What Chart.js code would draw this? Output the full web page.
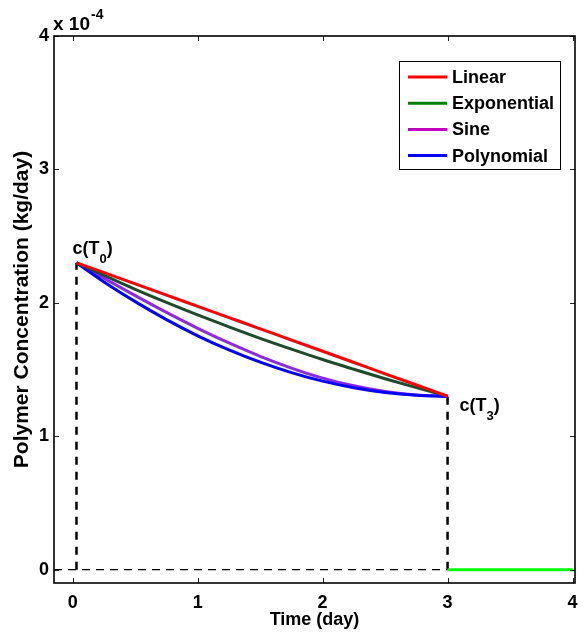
<!DOCTYPE html>
<html><head><meta charset="utf-8">
<script src="https://cdn.jsdelivr.net/npm/chart.js@4/dist/chart.umd.min.js"></script>
<style>html,body{margin:0;padding:0;background:#fff}#wrap{width:587px;height:634px}</style>
</head><body><div id="wrap"><canvas id="c" width="587" height="634"></canvas></div>
<script>
// ---- data (concentration in units of 1e-4 kg/day) ----
const TIME = [0.03, 0.25, 0.5, 0.75, 1.0, 1.25, 1.5, 1.75, 2.0, 2.25, 2.5, 2.75, 3.0];
const LINEAR      = [2.30, 2.226, 2.142, 2.058, 1.973, 1.889, 1.805, 1.721, 1.637, 1.553, 1.468, 1.384, 1.30];
const EXPONENTIAL = [2.30, 2.205, 2.101, 2.003, 1.909, 1.820, 1.734, 1.653, 1.575, 1.502, 1.431, 1.364, 1.30];
const SINE        = [2.30, 2.184, 2.054, 1.928, 1.809, 1.699, 1.599, 1.511, 1.436, 1.378, 1.335, 1.309, 1.30];
const POLYNOMIAL  = [2.30, 2.157, 2.009, 1.874, 1.753, 1.647, 1.555, 1.477, 1.413, 1.364, 1.328, 1.307, 1.30];
const T0 = 0.03, T3 = 3.0, T_END = 4.0;
const C_T0 = 2.30, C_T3 = 1.30;
const X_TICKS = [0, 1, 2, 3, 4];
const Y_TICKS = [0, 1, 2, 3, 4];
const Y_EXPONENT = '-4';
const SERIES_LABELS = ['Linear', 'Exponential', 'Sine', 'Polynomial'];
const LEGEND_COLORS = ['#ff0000', '#008000', '#bf00bf', '#0000ff'];
const LINE_COLORS   = ['#ff0000', '#1f4a2c', '#8a2be2', '#0000ff'];

const FONT = '"Liberation Sans", Arial, Helvetica, sans-serif';
const pts = (xs, ys) => xs.map((x, i) => ({x: x, y: ys[i]}));

const curveSets = [LINEAR, EXPONENTIAL, SINE, POLYNOMIAL].map((ys, i) => ({
  label: SERIES_LABELS[i], data: pts(TIME, ys), borderColor: LINE_COLORS[i],
  borderWidth: 3, pointRadius: 0, fill: false, cubicInterpolationMode: 'monotone',
  order: [1, 2, 4, 3][i]
}));

const helperSets = [
  {label: '_v0', data: [{x: T0, y: 0}, {x: T0, y: C_T0}], borderColor: '#000', borderWidth: 2.5, borderDash: [8, 7], pointRadius: 0, order: 10},
  {label: '_v3', data: [{x: T3, y: 0}, {x: T3, y: C_T3}], borderColor: '#000', borderWidth: 2.5, borderDash: [8, 7], pointRadius: 0, order: 10},
  {label: '_h0', data: [{x: -0.15, y: 0}, {x: T3, y: 0}], borderColor: '#000', borderWidth: 1.3, borderDash: [8, 6], pointRadius: 0, order: 10},
  {label: '_g', data: [{x: T3, y: 0}, {x: T_END, y: 0}], borderColor: '#00ff00', borderWidth: 3, pointRadius: 0, order: 9}
];

const decor = {
  id: 'decor',
  afterDraw(chart) {
    const ctx = chart.ctx, a = chart.chartArea;
    const xs = chart.scales.x, ys = chart.scales.y;
    ctx.save();
    // inner ticks
    ctx.strokeStyle = '#222'; ctx.lineWidth = 1;
    X_TICKS.forEach(v => {
      const px = Math.round(xs.getPixelForValue(v)) + 0.5;
      ctx.beginPath(); ctx.moveTo(px, a.bottom); ctx.lineTo(px, a.bottom - 5);
      ctx.moveTo(px, a.top); ctx.lineTo(px, a.top + 5); ctx.stroke();
    });
    Y_TICKS.forEach(v => {
      const py = Math.round(ys.getPixelForValue(v)) + 0.5;
      ctx.beginPath(); ctx.moveTo(a.left, py); ctx.lineTo(a.left + 5, py);
      ctx.moveTo(a.right, py); ctx.lineTo(a.right - 5, py); ctx.stroke();
    });
    // box
    ctx.strokeStyle = '#000'; ctx.lineWidth = 1.6;
    ctx.strokeRect(a.left, a.top, a.right - a.left, a.bottom - a.top);

    // legend
    const lx = a.right - 176, ly = a.top + 25, lw = 161, lh = 108;
    ctx.fillStyle = '#fff'; ctx.fillRect(lx, ly, lw, lh);
    ctx.strokeStyle = '#000'; ctx.lineWidth = 1; ctx.strokeRect(lx + 0.5, ly + 0.5, lw, lh);
    ctx.font = 'bold 18px ' + FONT; ctx.textBaseline = 'middle'; ctx.textAlign = 'left';
    SERIES_LABELS.forEach((lab, i) => {
      const cy = ly + 16 + i * 26.2;
      ctx.strokeStyle = LEGEND_COLORS[i]; ctx.lineWidth = 3;
      ctx.beginPath(); ctx.moveTo(lx + 9, cy); ctx.lineTo(lx + 48, cy); ctx.stroke();
      ctx.fillStyle = '#000'; ctx.fillText(lab, lx + 53, cy + 1);
    });

    // annotations c(T0), c(T3)
    ctx.fillStyle = '#000'; ctx.textBaseline = 'alphabetic';
    function cT(x, y, sub) {
      ctx.font = 'bold 18px ' + FONT;
      let w = ctx.measureText('c(T').width;
      ctx.fillText('c(T', x, y);
      ctx.font = 'bold 13px ' + FONT;
      ctx.fillText(sub, x + w, y + 9);
      const w2 = ctx.measureText(sub).width;
      ctx.font = 'bold 18px ' + FONT;
      ctx.fillText(')', x + w + w2, y);
    }
    const p0x = xs.getPixelForValue(T0), p0y = ys.getPixelForValue(C_T0);
    cT(p0x - 4, p0y - 9, '0');
    const p3x = xs.getPixelForValue(T3), p3y = ys.getPixelForValue(C_T3);
    cT(p3x + 12, p3y + 15, '3');

    // exponent label
    ctx.font = 'bold 19px ' + FONT;
    const ex = a.left - 1, ey = a.top - 6;
    ctx.fillText('x 10', ex, ey);
    const ew = ctx.measureText('x 10').width;
    ctx.font = 'bold 14px ' + FONT;
    ctx.fillText(Y_EXPONENT, ex + ew + 1, ey - 11);
    ctx.restore();
  }
};

new Chart(document.getElementById('c'), {
  type: 'line',
  data: {datasets: [...curveSets, ...helperSets]},
  options: {
    responsive: false, animation: false,
    layout: {padding: {top: 36, right: 12, left: 0, bottom: 0}},
    plugins: {legend: {display: false}, tooltip: {enabled: false}},
    scales: {
      x: {
        type: 'linear', min: -0.15, max: 4.02,
        grid: {display: false, drawTicks: false}, border: {display: false},
        afterBuildTicks: s => { s.ticks = X_TICKS.map(v => ({value: v})); },
        afterFit: s => { s.height = 51; },
        ticks: {color: '#000', padding: 9, font: {family: FONT, size: 18, weight: 'bold'}, maxRotation: 0},
        title: {display: true, text: 'Time (day)', color: '#000', padding: {top: 0, bottom: 3}, font: {family: FONT, size: 18, weight: 'bold'}}
      },
      y: {
        type: 'linear', min: -0.1, max: 4,
        grid: {display: false, drawTicks: false}, border: {display: false},
        afterBuildTicks: s => { s.ticks = Y_TICKS.map(v => ({value: v})); },
        afterFit: s => { s.width = 54; },
        ticks: {color: '#000', padding: 5, font: {family: FONT, size: 18, weight: 'bold'}},
        title: {display: true, text: 'Polymer Concentration (kg/day)', color: '#000', padding: {top: 10, bottom: 0}, font: {family: FONT, size: 21, weight: 'bold'}}
      }
    }
  },
  plugins: [decor]
});
</script></body></html>
